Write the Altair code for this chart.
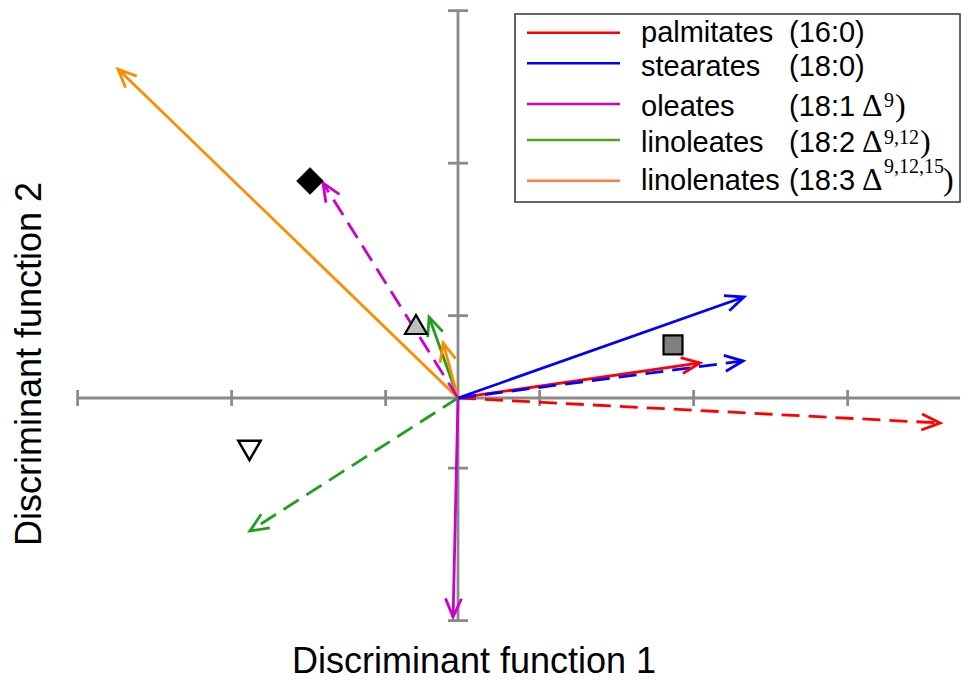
import altair as alt
import numpy as np
import pandas as pd

# ---------------- data ----------------
series = ["palmitates", "stearates", "oleates", "linoleates", "linolenates"]
formula = ["(16:0)", "(18:0)", "(18:1", "(18:2", "(18:3"]
delta_sup = ["", "", "9", "9,12", "9,12,15"]
colors = ["#FF0000", "#0000FF", "#CC00CC", "#1FA01F", "#FF8C00"]
legend_colors = ["#FF0000", "#0000FF", "#CC00CC", "#4CA51E", "#FF7F40"]

# arrow tips (arrows start at the origin)
solid_x = [1.571, 1.857, -0.032, -0.188, -2.208]
solid_y = [0.230, 0.662, -1.436, 0.531, 2.157]
second_x = [3.130, 1.851, -0.877, -1.351, -0.097]
second_y = [-0.164, 0.243, 1.410, -0.872, 0.361]
second_dashed = [True, True, True, True, False]

# group centroids
group_x = [-0.961, -0.273, 1.396, -1.354]
group_y = [1.423, 0.482, 0.348, -0.344]

# axes
x_ticks = [-2.47, -1.47, -0.47, 0.53, 1.53, 2.53]
y_ticks = [2.54, 1.54, 0.54, -0.46, -1.46]
x_axis_range = [-2.47, 3.26]
y_axis_range = [-1.46, 2.54]

# ---------------- layout / style ----------------
W, H = 961, 681
x_dom = [-2.974, 3.266]
y_dom = [-1.856, 2.610]
SX = W / (x_dom[1] - x_dom[0])
SY = H / (y_dom[1] - y_dom[0])
xs = alt.Scale(domain=x_dom, nice=False, zero=False)
ys = alt.Scale(domain=y_dom, nice=False, zero=False)
cs = alt.Scale(domain=series, range=colors)
GRAY = "#8A8A8A"
LW = 2.8
ARROW_PATH = "M -0.40 0.92 L 0 0 L 0.40 0.92"

group_shape = ["diamond", "triangle-up", "square", "triangle-down"]
group_fill = ["black", "#BEBEBE", "#7F7F7F", "white"]
group_size = [729, 484, 361, 500]
group_sw = [0.5, 2.2, 2.2, 2.5]


def X(f):
    return alt.X(f, type="quantitative", scale=xs, axis=None)


def Y(f):
    return alt.Y(f, type="quantitative", scale=ys, axis=None)


layers = []

# axes
xa = pd.DataFrame({"x": [x_axis_range[0]], "x2": [x_axis_range[1]], "y": [0.0]})
ya = pd.DataFrame({"x": [0.0], "y": [y_axis_range[0]], "y2": [y_axis_range[1]]})
layers.append(alt.Chart(xa).mark_rule(color=GRAY, strokeWidth=LW).encode(
    x=X("x"), x2="x2", y=Y("y")))
layers.append(alt.Chart(ya).mark_rule(color=GRAY, strokeWidth=LW).encode(
    x=X("x"), y=Y("y"), y2="y2"))
xt = pd.DataFrame({"x": x_ticks, "y": 0.0})
yt = pd.DataFrame({"x": 0.0, "y": y_ticks})
layers.append(alt.Chart(xt).mark_tick(orient="vertical", size=16, thickness=LW,
                                      color=GRAY, opacity=1).encode(x=X("x"), y=Y("y")))
layers.append(alt.Chart(yt).mark_tick(orient="horizontal", size=20, thickness=LW,
                                      color=GRAY, opacity=1).encode(x=X("x"), y=Y("y")))

# arrows
a1 = pd.DataFrame({"series": series, "x": solid_x, "y": solid_y, "dashed": False})
a2 = pd.DataFrame({"series": series, "x": second_x, "y": second_y, "dashed": second_dashed})
arrows = pd.concat([a1, a2], ignore_index=True)
arrows["x0"] = 0.0
arrows["y0"] = 0.0
arrows["angle"] = (np.degrees(np.arctan2(arrows["x"] * SX, arrows["y"] * SY)) + 360) % 360

for dashed in [False, True]:
    df = arrows[arrows["dashed"] == dashed]
    kw = dict(strokeWidth=LW)
    if dashed:
        kw["strokeDash"] = [18, 9]
    layers.append(alt.Chart(df).mark_rule(**kw).encode(
        x=X("x0"), y=Y("y0"), x2="x", y2="y",
        color=alt.Color("series:N", scale=cs, legend=None)))
layers.append(alt.Chart(arrows).mark_point(shape=ARROW_PATH, filled=False, size=1600,
                                           strokeWidth=LW, opacity=1).encode(
    x=X("x"), y=Y("y"),
    angle=alt.Angle("angle:Q", scale=None),
    color=alt.Color("series:N", scale=cs, legend=None)))

# group points
for i in range(len(group_x)):
    df = pd.DataFrame({"x": [group_x[i]], "y": [group_y[i]]})
    layers.append(alt.Chart(df).mark_point(
        shape=group_shape[i], size=group_size[i], filled=True, fill=group_fill[i],
        stroke="black", strokeWidth=group_sw[i], opacity=1).encode(x=X("x"), y=Y("y")))

# legend
one = pd.DataFrame({"a": [0]})
layers.append(alt.Chart(one).mark_rect(fill="white", stroke="#333333", strokeWidth=1.5).encode(
    x=alt.value(515), x2=alt.value(960), y=alt.value(14), y2=alt.value(202)))
line_y = [32.7, 63.3, 104, 140, 180.7]
base_y = [42, 75.5, 116, 151.5, 189.5]
sup_y = [0, 0, 107, 144, 173]
close_x = [0, 0, 895, 920, 943]
SANS = "Liberation Sans"
SERIF = "Liberation Serif"


def txt(s, x, y, font, size):
    return alt.Chart(pd.DataFrame({"t": [s]})).mark_text(
        align="left", baseline="alphabetic", font=font, fontSize=size, color="black").encode(
        text="t:N", x=alt.value(x), y=alt.value(y))


for i, name in enumerate(series):
    layers.append(alt.Chart(one).mark_rule(strokeWidth=2.4, color=legend_colors[i]).encode(
        x=alt.value(527), x2=alt.value(620), y=alt.value(line_y[i])))
    layers.append(txt(name, 641, base_y[i], SANS, 29))
    layers.append(txt(formula[i], 789, base_y[i], SANS, 29))
    if delta_sup[i]:
        layers.append(txt("\u0394", 862, base_y[i], SERIF, 32))
        layers.append(txt(delta_sup[i], 884, sup_y[i], SERIF, 20))
        layers.append(txt(")", close_x[i], base_y[i], SERIF, 32))

# axis titles
layers.append(alt.Chart(one).mark_text(
    text="Discriminant function 1", font=SANS, fontSize=36, align="center",
    baseline="alphabetic", color="black").encode(x=alt.value(474), y=alt.value(673)))
layers.append(alt.Chart(one).mark_text(
    text="Discriminant function 2", font=SANS, fontSize=36, align="center", angle=270,
    baseline="alphabetic", color="black").encode(x=alt.value(41), y=alt.value(364)))

chart = alt.layer(*layers).properties(
    width=W, height=H, padding=0, autosize="none", background="white"
).configure_view(stroke=None)

chart.save("out.html", embed_options={"renderer": "svg", "actions": False})
